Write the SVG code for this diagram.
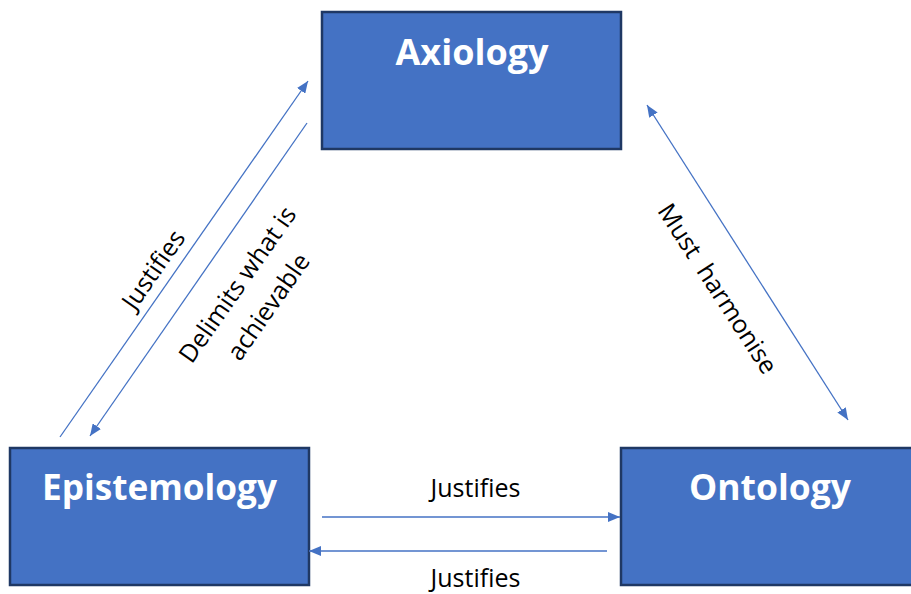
<svg xmlns="http://www.w3.org/2000/svg" width="911" height="594" viewBox="0 0 911 594">
  <style>
    .box { fill: #4472C4; stroke: #1F3864; stroke-width: 2.5; }
    .title { font-family: "Open Sans", "Noto Sans", sans-serif; font-weight: bold; font-size: 36px; fill: #ffffff; text-anchor: middle; }
    .link { stroke: #4472C4; stroke-width: 1.3; fill: none; }
    .label { font-family: "Open Sans", "Noto Sans", sans-serif; font-size: 25px; fill: #000000; text-anchor: middle; }
  </style>
  <defs>
    <marker id="head" viewBox="0 0 12 10" refX="12" refY="5" markerWidth="12" markerHeight="10" markerUnits="userSpaceOnUse" orient="auto-start-reverse">
      <path d="M0,0 L12,5 L0,10 Z" fill="#4472C4"/>
    </marker>
  </defs>
  <rect width="911" height="594" fill="#ffffff"/>

  <g id="axiology">
    <rect class="box" x="322" y="12" width="299" height="137"/>
    <text class="title" x="472" y="65" textLength="153" lengthAdjust="spacingAndGlyphs">Axiology</text>
  </g>
  <g id="epistemology">
    <rect class="box" x="10" y="448" width="299" height="137"/>
    <text class="title" x="159.5" y="500" textLength="235" lengthAdjust="spacingAndGlyphs">Epistemology</text>
  </g>
  <g id="ontology">
    <rect class="box" x="621" y="448" width="299" height="137"/>
    <text class="title" x="770" y="500" textLength="162" lengthAdjust="spacingAndGlyphs">Ontology</text>
  </g>

  <g id="connectors">
    <line class="link" x1="60" y1="437" x2="308" y2="81" marker-end="url(#head)"/>
    <line class="link" x1="307" y1="123" x2="90" y2="436" marker-end="url(#head)"/>
    <line class="link" x1="647" y1="105" x2="848" y2="420" marker-start="url(#head)" marker-end="url(#head)"/>
    <line class="link" x1="322" y1="517" x2="620" y2="517" marker-end="url(#head)"/>
    <line class="link" x1="607" y1="551" x2="309" y2="551" marker-end="url(#head)"/>

    <text class="label" transform="translate(154,270) rotate(-55)" y="8">Justifies</text>
    <text class="label" transform="translate(238,285) rotate(-55)" y="8">Delimits what is</text>
    <text class="label" transform="translate(269,307) rotate(-55)" y="8">achievable</text>
    <text class="label" transform="translate(717,289) rotate(57)" y="8" xml:space="preserve">Must  harmonise</text>
    <text class="label" x="475.5" y="497">Justifies</text>
    <text class="label" x="475.5" y="587">Justifies</text>
  </g>
</svg>
